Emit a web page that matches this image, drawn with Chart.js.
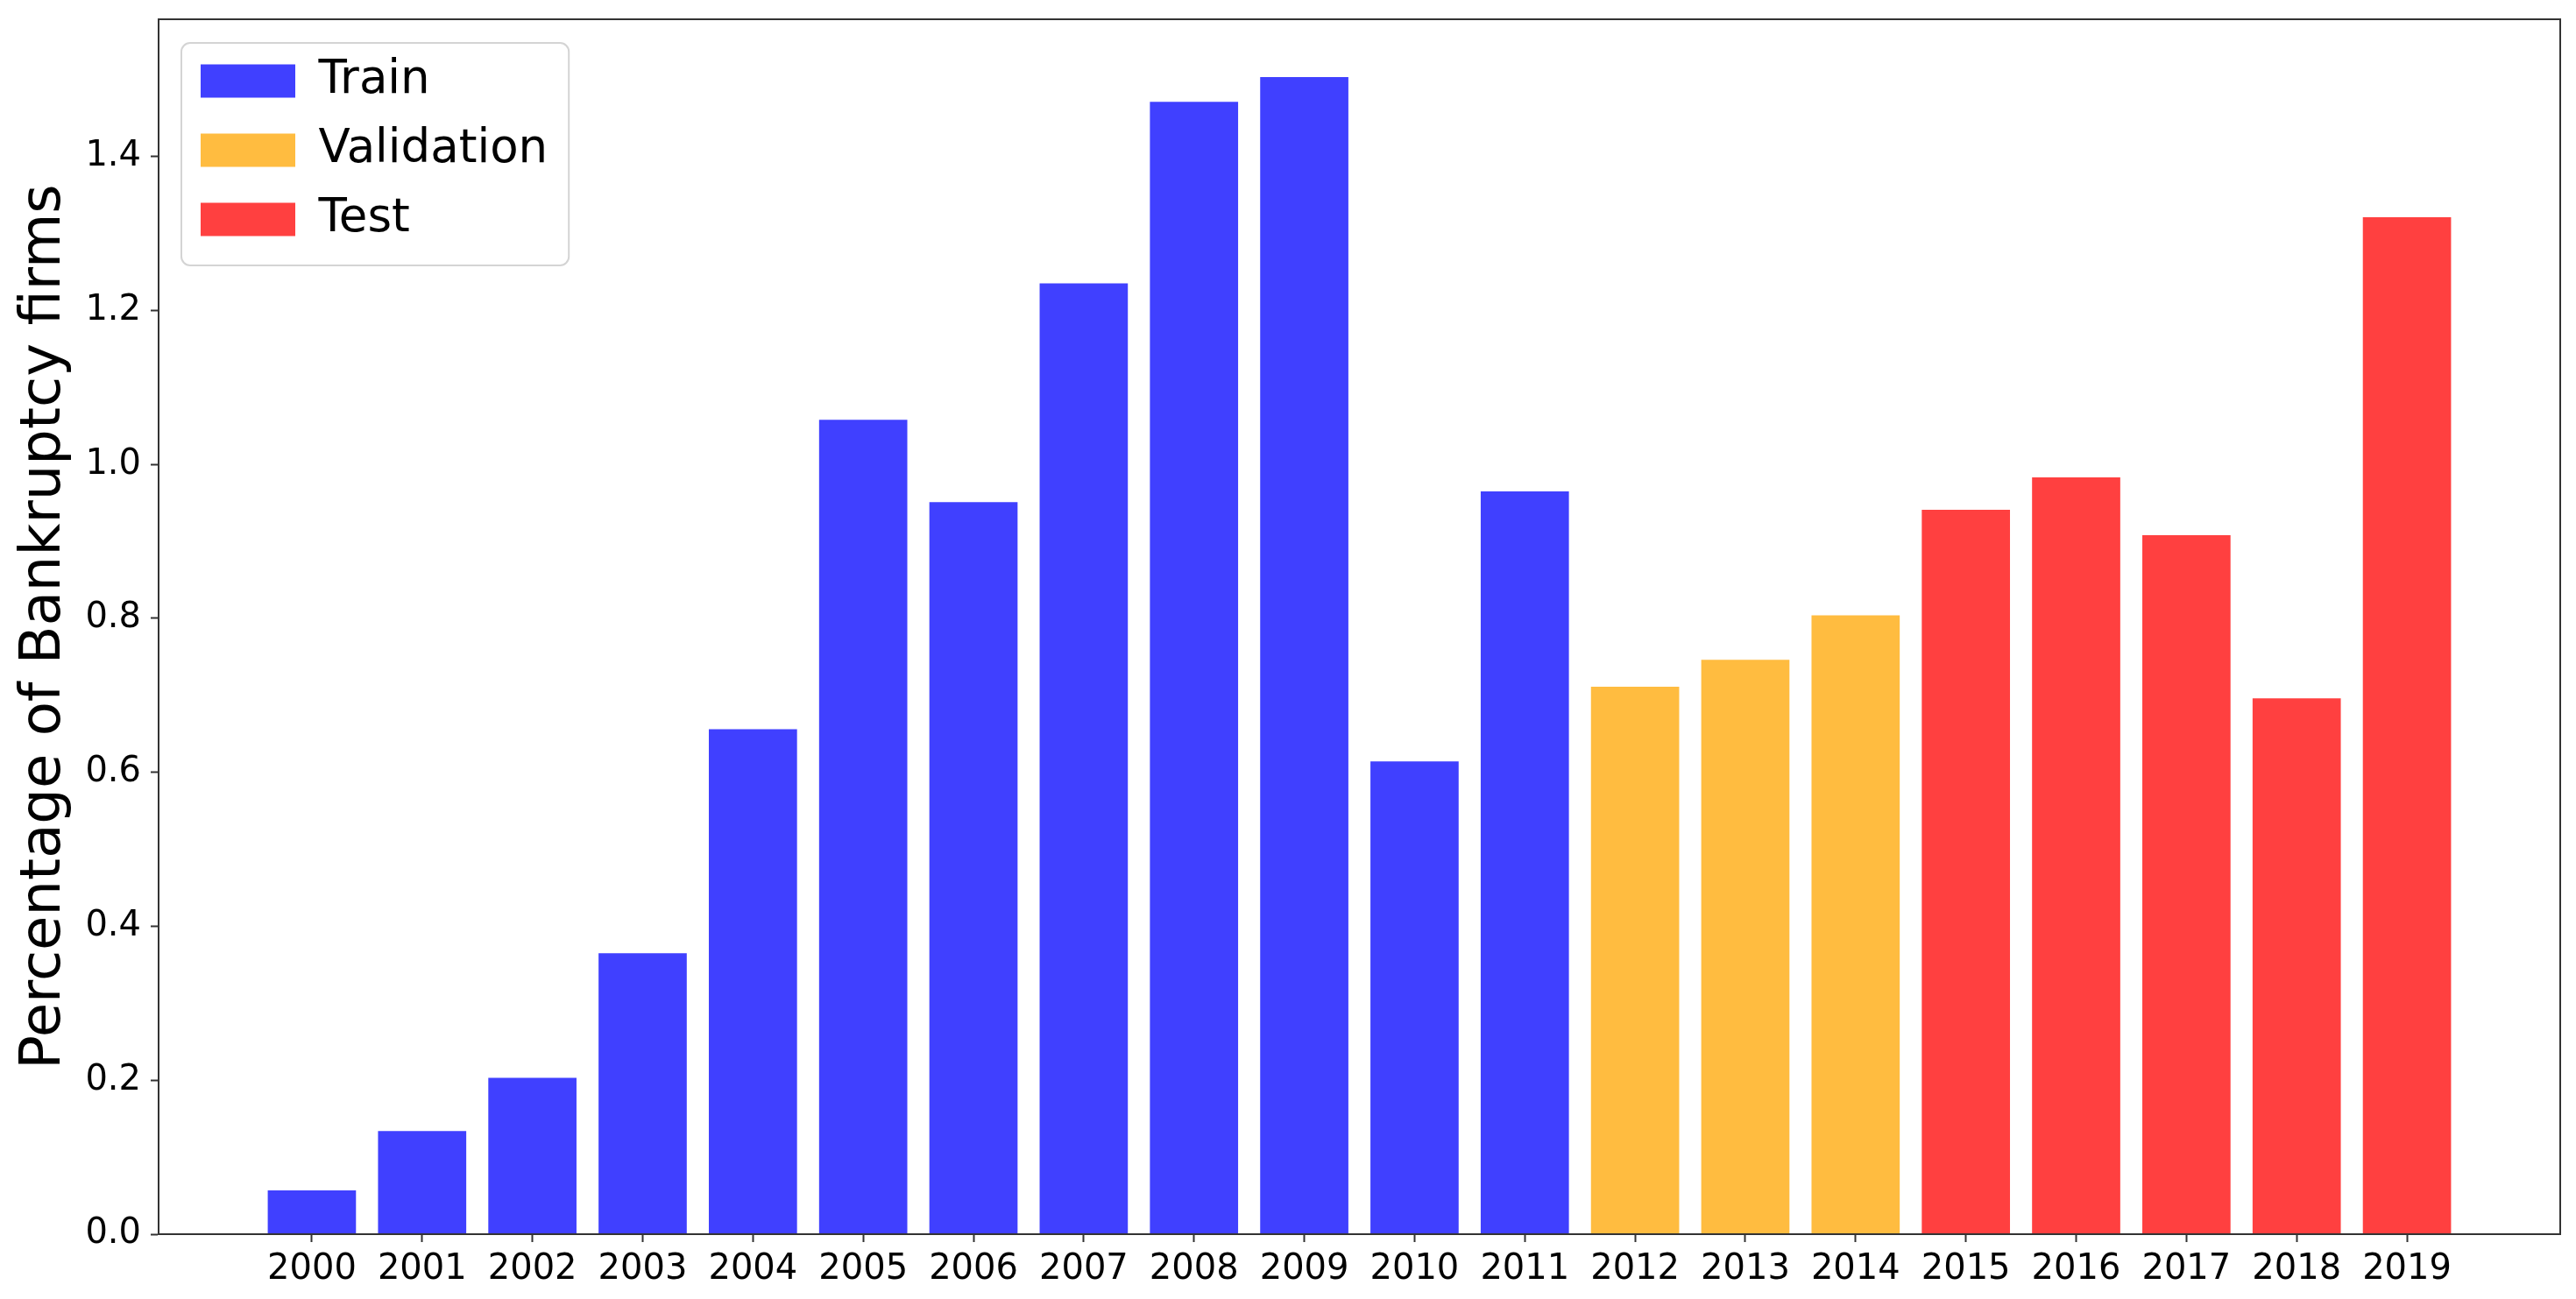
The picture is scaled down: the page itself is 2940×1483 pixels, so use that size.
<!DOCTYPE html>
<html>
<head>
<meta charset="utf-8">
<script src="https://cdn.jsdelivr.net/npm/chart.js@4/dist/chart.umd.min.js"></script>
<style>
  html, body { margin: 0; padding: 0; background: #fff; }
  canvas { display: block; }
</style>
</head>
<body>
<canvas id="bankruptcy" width="2940" height="1483"></canvas>
<script>
// Data
const years = ['2000', '2001', '2002', '2003', '2004', '2005', '2006', '2007', '2008', '2009',
  '2010', '2011', '2012', '2013', '2014', '2015', '2016', '2017', '2018', '2019'];
const trainValues = [0.057, 0.134, 0.203, 0.365, 0.656, 1.058, 0.951, 1.235, 1.471, 1.503, 0.614, 0.965];
const validationValues = [0.711, 0.746, 0.804];
const testValues = [0.941, 0.983, 0.908, 0.696, 1.321];
const yTicks = [0, 0.2, 0.4, 0.6, 0.8, 1.0, 1.2, 1.4];

const allValues = trainValues.concat(validationValues, testValues);
const yMax = Math.max(...allValues) * 1.05;

// turn a slice of values into {x, y} points starting at a year index
function toPoints(values, startIndex) {
  return values.map((v, i) => ({ x: startIndex + i, y: v }));
}

// x limits like matplotlib: bars of width 0.8 plus 5% margin
const xPad = (years.length - 1 + 0.8) * 0.05 + 0.4;

const tickFont = { family: 'DejaVu Sans', size: 40 };
const legendFontSize = 53;
const legendBoxHeight = 38;
const axisColor = '#333';

// plot frame (top + right sides) and the legend frame
const framePlugin = {
  id: 'frame',
  afterLayout(chart) {
    const lg = chart.legend;
    if (lg) {
      lg.left = chart.chartArea.left + 22;
      lg.top = chart.chartArea.top + 18;
    }
  },
  beforeDatasetsDraw(chart) {
    const lg = chart.legend;
    if (!lg || !lg.legendItems) return;
    const ctx = chart.ctx;
    const pad = lg.options.labels.padding;
    const itemHeight = Math.max(legendFontSize, legendBoxHeight);
    let colWidth = 0;
    if (lg.columnSizes && lg.columnSizes[0]) {
      colWidth = lg.columnSizes[0].width;
    } else {
      colWidth = Math.max(...lg.legendHitBoxes.map(b => b.width));
    }
    const x0 = lg.left + pad - 22;
    const y0 = lg.top + pad - 17;
    const w = colWidth + 22 + 24;
    const h = lg.legendItems.length * (itemHeight + pad) - pad + 17 + 26;
    ctx.save();
    ctx.strokeStyle = '#d4d4d4';
    ctx.lineWidth = 2;
    ctx.beginPath();
    ctx.roundRect(x0, y0, w, h, 10);
    ctx.stroke();
    ctx.restore();
  },
  afterDatasetsDraw(chart) {
    const { ctx, chartArea: a } = chart;
    ctx.save();
    ctx.strokeStyle = axisColor;
    ctx.lineWidth = 2;
    ctx.strokeRect(a.left, a.top, a.right - a.left, a.bottom - a.top);
    ctx.restore();
  }
};

const barCtx = document.getElementById('bankruptcy').getContext('2d');
const barChart = new Chart(barCtx, {
  type: 'bar',
  data: {
    datasets: [{
      label: 'Train',
      data: toPoints(trainValues, 0),
      backgroundColor: 'rgba(0, 0, 255, 0.75)',
      borderColor: 'rgba(0, 0, 255, 0.75)',
      borderWidth: 0
    }, {
      label: 'Validation',
      data: toPoints(validationValues, trainValues.length),
      backgroundColor: 'rgba(255, 165, 0, 0.75)',
      borderColor: 'rgba(255, 165, 0, 0.75)',
      borderWidth: 0
    }, {
      label: 'Test',
      data: toPoints(testValues, trainValues.length + validationValues.length),
      backgroundColor: 'rgba(255, 0, 0, 0.75)',
      borderColor: 'rgba(255, 0, 0, 0.75)',
      borderWidth: 0
    }]
  },
  options: {
    responsive: false,
    animation: false,
    devicePixelRatio: 1,
    datasets: {
      bar: { grouped: false, categoryPercentage: 1.0, barPercentage: 0.8 }
    },
    layout: { padding: { top: 22, right: 18, left: 0, bottom: 0 } },
    plugins: {
      tooltip: { enabled: false },
      legend: {
        position: 'chartArea',
        align: 'start',
        labels: {
          boxWidth: 108,
          boxHeight: legendBoxHeight,
          padding: 26,
          color: '#000',
          font: { family: 'DejaVu Sans', size: legendFontSize }
        }
      }
    },
    scales: {
      x: {
        type: 'linear',
        min: -xPad,
        max: years.length - 1 + xPad,
        offset: false,
        afterBuildTicks: axis => { axis.ticks = years.map((_, i) => ({ value: i })); },
        afterFit: axis => {
          axis.height = 74;
          axis.paddingLeft = 0;
          axis.paddingRight = 0;
        },
        border: { color: axisColor, width: 2 },
        grid: {
          offset: false,
          drawOnChartArea: false,
          tickLength: 9,
          tickWidth: 2,
          tickColor: axisColor
        },
        ticks: {
          autoSkip: false,
          maxRotation: 0,
          padding: 8,
          color: '#000',
          font: tickFont,
          callback: value => years[Math.round(value)]
        }
      },
      y: {
        min: 0,
        max: yMax,
        afterBuildTicks: axis => { axis.ticks = yTicks.map(v => ({ value: v })); },
        afterFit: axis => {
          axis.width = 181;
          axis.paddingTop = 0;
          axis.paddingBottom = 0;
        },
        border: { color: axisColor, width: 2 },
        grid: {
          drawOnChartArea: false,
          tickLength: 9,
          tickWidth: 2,
          tickColor: axisColor
        },
        ticks: {
          padding: 11,
          color: '#000',
          font: tickFont,
          callback: value => Number(value).toFixed(1)
        },
        title: {
          display: true,
          text: 'Percentage of Bankruptcy firms',
          color: '#000',
          padding: { top: 13, bottom: 0 },
          font: { family: 'DejaVu Sans', size: 64 }
        }
      }
    }
  },
  plugins: [framePlugin]
});
</script>
</body>
</html>
